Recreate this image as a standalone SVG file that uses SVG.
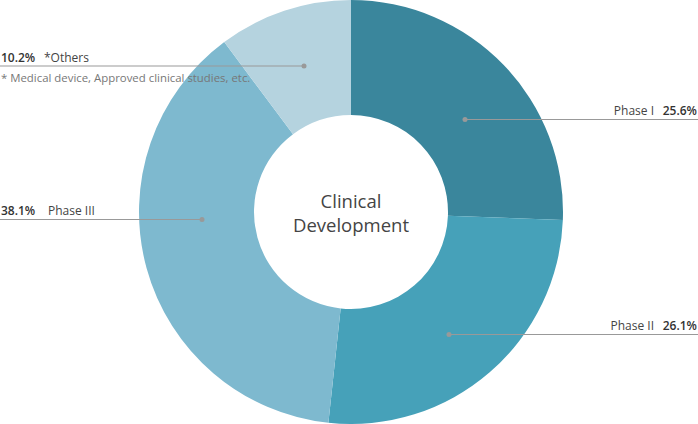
<svg xmlns="http://www.w3.org/2000/svg" width="698" height="424" viewBox="0 0 698 424">
<style>
.lbl{font-family:"Open Sans","Noto Sans",sans-serif;font-size:12px;fill:#444}
.val{font-weight:600;fill:#333}
.note{font-family:"Open Sans","Noto Sans",sans-serif;font-size:11.4px;fill:#777}
.ctr{font-family:"Open Sans","Noto Sans",sans-serif;font-size:18.5px;fill:#444}
.ln{stroke:#999;stroke-width:1;fill:none}
.dot{fill:#999}
</style>
<rect width="698" height="424" fill="#fff"/>
<g id="phase1"><path d="M351,0 A212,212 0 0 1 562.85,219.99 L447.93,215.66 A97,97 0 0 0 351,115 Z" fill="#3a869c"/></g>
<g id="phase2"><path d="M562.85,219.99 A212,212 0 0 1 328.40,422.79 L340.66,308.45 A97,97 0 0 0 447.93,215.66 Z" fill="#46a1b9"/></g>
<g id="phase3"><path d="M328.40,422.79 A212,212 0 0 1 224.24,42.07 L293.00,134.25 A97,97 0 0 0 340.66,308.45 Z" fill="#7eb9cf"/></g>
<g id="others"><path d="M224.24,42.07 A212,212 0 0 1 351,0 L351,115 A97,97 0 0 0 293.00,134.25 Z" fill="#b5d3df"/></g>
<g id="center"><text class="ctr" x="351" y="208" text-anchor="middle">Clinical</text><text class="ctr" x="351" y="232" text-anchor="middle">Development</text></g>
<g id="connectors">
<line class="ln" x1="0" y1="66" x2="304" y2="66"/><circle class="dot" cx="304" cy="66" r="2.5"/>
<line class="ln" x1="465" y1="119.5" x2="698" y2="119.5"/><circle class="dot" cx="465" cy="119.5" r="2.5"/>
<line class="ln" x1="449" y1="334.5" x2="698" y2="334.5"/><circle class="dot" cx="449" cy="334.5" r="2.5"/>
<line class="ln" x1="0" y1="219.5" x2="202" y2="219.5"/><circle class="dot" cx="202" cy="219.5" r="2.5"/>
</g>
<g id="label-others"><text class="lbl" x="1" y="62"><tspan class="val">10.2%</tspan><tspan x="44">*Others</tspan></text><text class="note" x="1" y="82">* Medical device, Approved clinical studies, etc.</text></g>
<g id="label-phase1"><text class="lbl" x="654" y="115" text-anchor="end">Phase I</text><text class="lbl val" x="697" y="115" text-anchor="end">25.6%</text></g>
<g id="label-phase2"><text class="lbl" x="654" y="330" text-anchor="end">Phase II</text><text class="lbl val" x="697" y="330" text-anchor="end">26.1%</text></g>
<g id="label-phase3"><text class="lbl" x="1" y="215"><tspan class="val">38.1%</tspan><tspan x="48">Phase III</tspan></text></g>
</svg>
